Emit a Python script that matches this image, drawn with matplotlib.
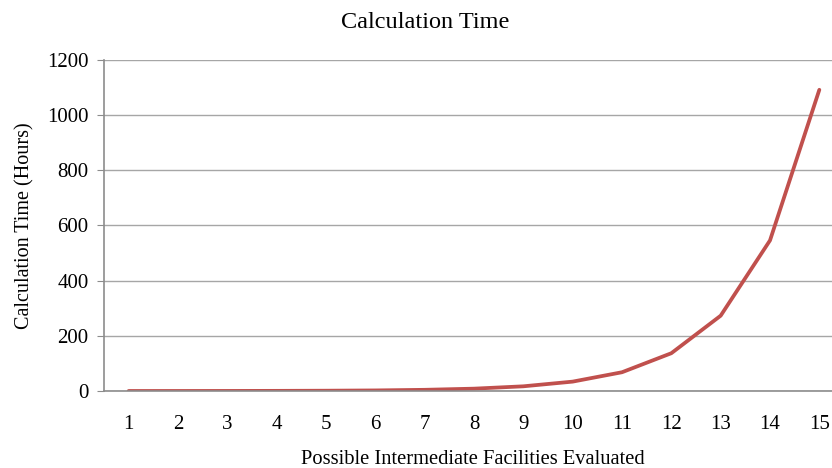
import matplotlib
matplotlib.use("Agg")
import matplotlib.pyplot as plt

# facilities evaluated vs. hours of computation
facilities = list(range(1, 16))
hours = [0.07, 0.13, 0.27, 0.53, 1.07, 2.1, 4.3, 8.5, 17, 34, 68, 137, 273, 546, 1092]
y_ticks = [0, 200, 400, 600, 800, 1000, 1200]

plt.rcParams["font.family"] = ["Liberation Serif", "DejaVu Serif"]

fig = plt.figure(figsize=(8.32, 4.68), dpi=100)
# plot area runs slightly past the right edge, the way the category slots fall
ax = fig.add_axes([104 / 832, 1 - 391 / 468, 740 / 832, 331 / 468])

ax.plot(facilities, hours, color="#c0504d", linewidth=2.7, solid_capstyle="round")

ax.set_xlim(0.5, 15.5)
ax.set_ylim(0, 1200)
ax.set_yticks(y_ticks)
ax.set_xticks(facilities)
ax.grid(axis="y", color="#a6a6a6", linewidth=1.0)
ax.set_axisbelow(True)

for side in ("top", "right"):
    ax.spines[side].set_visible(False)
for side in ("left", "bottom"):
    ax.spines[side].set_color("#8c8c8c")
    ax.spines[side].set_linewidth(1.2)

ax.tick_params(axis="y", length=5, color="#8c8c8c", labelsize=15, pad=6)
ax.tick_params(axis="x", length=0, labelsize=15, pad=17)

ax.set_ylabel("Calculation Time (Hours)", fontsize=14.5, labelpad=9)
fig.text(473 / 832, 1 - 460 / 468, "Possible Intermediate Facilities Evaluated",
         fontsize=14.8, ha="center", va="center")
fig.text(425 / 832, 1 - 22 / 468, "Calculation Time", fontsize=17.5,
         ha="center", va="center")

fig.savefig("out.png", dpi=100)
